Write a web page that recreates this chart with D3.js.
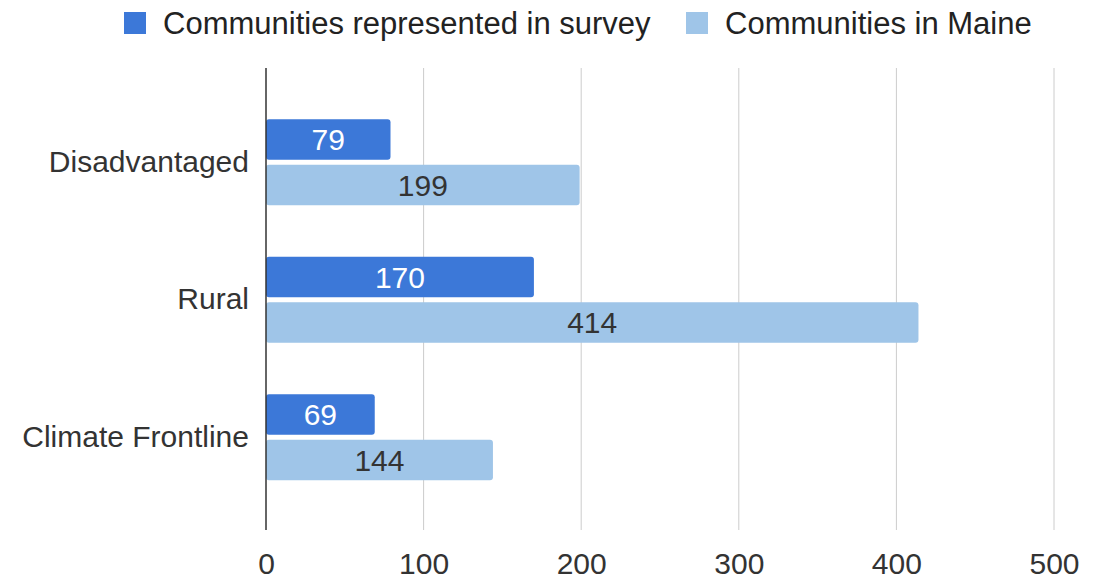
<!DOCTYPE html>
<html>
<head>
<meta charset="utf-8">
<script src="https://cdn.jsdelivr.net/npm/d3@7"></script>
<style>
  html, body { margin: 0; padding: 0; background: #ffffff; }
  svg { display: block; font-family: "Liberation Sans", Arial, sans-serif; }
</style>
</head>
<body>
<svg id="chart" width="1096" height="584"></svg>
<script>
// Community counts by category
const categories = ["Disadvantaged", "Rural", "Climate Frontline"];
const seriesNames = ["Communities represented in survey", "Communities in Maine"];
const surveyValues = [79, 170, 69];
const maineValues = [199, 414, 144];
const xTicks = [0, 100, 200, 300, 400, 500];
const seriesColors = ["#3c78d8", "#9fc5e8"];
const labelColors = ["#ffffff", "#333333"];

const svg = d3.select("#chart");
const plot = { left: 266, right: 1054, top: 68, bottom: 530 };

const x = d3.scaleLinear().domain([0, 500]).range([plot.left, plot.right]);
const y = d3.scaleBand().domain(categories).range([93.5, 506]).paddingInner(0.375).paddingOuter(0.1875);
const ySub = d3.scaleBand().domain([0, 1]).range([0, y.bandwidth()]).paddingInner(0.11);

// Vertical gridlines
svg.append("g")
  .selectAll("line")
  .data(xTicks.filter(d => d > 0))
  .join("line")
  .attr("x1", d => x(d)).attr("x2", d => x(d))
  .attr("y1", plot.top).attr("y2", plot.bottom)
  .attr("stroke", "#cccccc").attr("stroke-width", 1);

// X axis tick labels
const xAxis = d3.axisBottom(x).tickValues(xTicks).tickSize(0).tickPadding(0);
const gx = svg.append("g").attr("transform", `translate(0, ${plot.bottom + 23})`).call(xAxis);
gx.select(".domain").remove();
gx.selectAll("text")
  .attr("font-size", 30)
  .attr("fill", "#333333")
  .attr("font-family", "'Liberation Sans', Arial, sans-serif");

// Bars
const rows = categories.map((c, i) => ({ cat: c, vals: [surveyValues[i], maineValues[i]] }));
const groups = svg.append("g").selectAll("g")
  .data(rows)
  .join("g")
  .attr("transform", d => `translate(0, ${y(d.cat)})`);

groups.selectAll("rect")
  .data(d => d.vals.map((v, k) => ({ v, k })))
  .join("rect")
  .attr("x", x(0))
  .attr("y", d => ySub(d.k))
  .attr("width", d => x(d.v) - x(0))
  .attr("height", ySub.bandwidth())
  .attr("rx", 3).attr("ry", 3)
  .attr("fill", d => seriesColors[d.k]);

groups.selectAll("text")
  .data(d => d.vals.map((v, k) => ({ v, k })))
  .join("text")
  .attr("x", d => (x(d.v) + x(0)) / 2)
  .attr("y", d => ySub(d.k) + ySub.bandwidth() / 2)
  .attr("dy", "0.36em")
  .attr("text-anchor", "middle")
  .attr("font-size", 30)
  .attr("fill", d => labelColors[d.k])
  .text(d => d.v);

// Baseline axis
svg.append("line")
  .attr("x1", x(0)).attr("x2", x(0))
  .attr("y1", plot.top).attr("y2", plot.bottom)
  .attr("stroke", "#333333").attr("stroke-width", 1.5);

// Category labels
const yAxis = d3.axisLeft(y).tickSize(0).tickPadding(17);
const gy = svg.append("g").attr("transform", `translate(${x(0)}, 0)`).call(yAxis);
gy.select(".domain").remove();
gy.selectAll("text")
  .attr("font-size", 30)
  .attr("fill", "#333333")
  .attr("font-family", "'Liberation Sans', Arial, sans-serif");

// Legend
const legendItems = [
  { name: seriesNames[0], color: seriesColors[0], sx: 124 },
  { name: seriesNames[1], color: seriesColors[1], sx: 686 }
];
const lg = svg.append("g").selectAll("g").data(legendItems).join("g");
lg.append("rect")
  .attr("x", d => d.sx).attr("y", 12)
  .attr("width", 22).attr("height", 22)
  .attr("fill", d => d.color);
lg.append("text")
  .attr("x", d => d.sx + 39).attr("y", 23)
  .attr("dy", "0.36em")
  .attr("font-size", 31)
  .attr("fill", "#222222")
  .text(d => d.name);
</script>
</body>
</html>
